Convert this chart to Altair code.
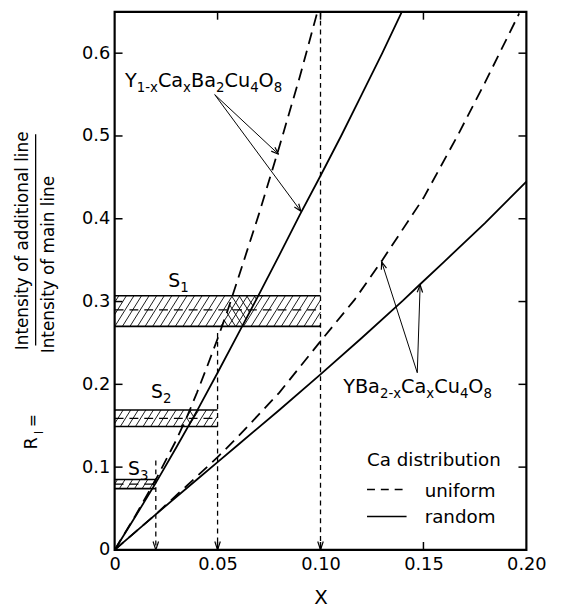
import math
import altair as alt
import pandas as pd
import numpy as np

# ---------------- data ----------------
# Y(1-x)Ca(x)Ba2Cu4O8, uniform (dashed)
Y1_UNI_X = [0, 0.01, 0.02, 0.03, 0.035, 0.04, 0.045, 0.05, 0.055, 0.06, 0.07, 0.08, 0.09, 0.0985]
Y1_UNI_Y = [0, 0.041, 0.085, 0.133, 0.16, 0.19, 0.222, 0.255, 0.29, 0.328, 0.405, 0.487, 0.572, 0.65]
# Y(1-x)Ca(x)Ba2Cu4O8, random (solid)
Y1_RND_X = [0, 0.01, 0.02, 0.03, 0.04, 0.05, 0.06, 0.07, 0.08, 0.09, 0.10, 0.11, 0.12, 0.13, 0.1395]
Y1_RND_Y = [0, 0.04, 0.081, 0.124, 0.168, 0.214, 0.261, 0.308, 0.356, 0.405, 0.452, 0.50, 0.55, 0.60, 0.65]
# YBa(2-x)Ca(x)Cu4O8, uniform (dashed)
YB_UNI_X = [0, 0.02, 0.04, 0.05, 0.06, 0.08, 0.10, 0.1165, 0.13, 0.15, 0.1665, 0.18, 0.1965]
YB_UNI_Y = [0, 0.043, 0.089, 0.112, 0.137, 0.19, 0.252, 0.302, 0.35, 0.425, 0.50, 0.565, 0.648]
# YBa(2-x)Ca(x)Cu4O8, random (solid)
YB_RND_X = [0, 0.02, 0.04, 0.05, 0.06, 0.08, 0.10, 0.12, 0.14, 0.148, 0.16, 0.18, 0.20]
YB_RND_Y = [0, 0.043, 0.085, 0.106, 0.127, 0.169, 0.212, 0.256, 0.301, 0.32, 0.348, 0.395, 0.445]

# measured bands S1..S3
S_SUBS = ["1", "2", "3"]
S_XEND = [0.10, 0.05, 0.02]
S_LO = [0.270, 0.149, 0.074]
S_MID = [0.290, 0.159, 0.0795]
S_HI = [0.307, 0.169, 0.085]
S_LABEL_X = [0.031, 0.0226, 0.0115]
S_LABEL_Y = [0.326, 0.191, 0.099]

# vertical drop lines to the x axis
DROP_X = [0.02, 0.05, 0.10]
DROP_TOP = [0.108, 0.262, 0.65]

# labels (text, is_subscript) and their arrows
LBL_Y1 = [("Y", 0), ("1-x", 1), ("Ca", 0), ("x", 1), ("Ba", 0), ("2", 1),
          ("Cu", 0), ("4", 1), ("O", 0), ("8", 1)]
LBL_Y1_POS = (0.005, 0.559)
LBL_Y1_FROM = (0.0486, 0.55)
LBL_Y1_TIPS = [(0.0796, 0.478), (0.0905, 0.409)]
LBL_YB = [("YBa", 0), ("2-x", 1), ("Ca", 0), ("x", 1), ("Cu", 0), ("4", 1), ("O", 0), ("8", 1)]
LBL_YB_POS = (0.111, 0.190)
LBL_YB_FROM = (0.147, 0.214)
LBL_YB_TIPS = [(0.1297, 0.348), (0.1484, 0.32)]

# legend
LEG_TITLE = "Ca distribution"
LEG_NAMES = ["uniform", "random"]
LEG_X = [0.1226, 0.1418]
LEG_TEXT_X = 0.1506
LEG_TITLE_Y = 0.1008
LEG_LINE_Y = [0.073, 0.0405]
LEG_TEXT_Y = [0.064, 0.032]

X_TICKS = [0, 0.05, 0.10, 0.15, 0.20]
Y_TICKS = [0, 0.1, 0.2, 0.3, 0.4, 0.5, 0.6]

# ---------------- geometry helpers ----------------
W, H = 417, 545
XMAX, YMAX = 0.20, 0.65
FONT = "DejaVu Sans"
# DejaVu Sans advance widths (em) for the glyphs used in the formula labels
ADV = {"Y": 0.611, "C": 0.698, "a": 0.613, "B": 0.686, "u": 0.634, "O": 0.787,
       "x": 0.592, "-": 0.361, "S": 0.635}
for _d in "0123456789":
    ADV[_d] = 0.636


def to_px(x, y):
    return (x / XMAX * W, H - y / YMAX * H)


def to_data(px, py):
    return (px * XMAX / W, (H - py) * YMAX / H)


def hatch(poly_data, angle_deg, spacing):
    poly = [to_px(*p) for p in poly_data]
    a = math.radians(angle_deg)
    d = (math.cos(a), -math.sin(a))
    n = (-d[1], d[0])
    vals = [n[0] * px + n[1] * py for px, py in poly]
    lo, hi = min(vals), max(vals)
    segs = []
    c = math.ceil(lo / spacing) * spacing
    while c <= hi:
        pts = []
        for i in range(len(poly)):
            ax, ay = poly[i]
            bx, by = poly[(i + 1) % len(poly)]
            fa = n[0] * ax + n[1] * ay - c
            fb = n[0] * bx + n[1] * by - c
            if ((fa <= 0 <= fb) or (fb <= 0 <= fa)) and fa != fb:
                t = fa / (fa - fb)
                pts.append((ax + t * (bx - ax), ay + t * (by - ay)))
        if len(pts) >= 2:
            pts.sort(key=lambda p: p[0] * d[0] + p[1] * d[1])
            p0, p1 = pts[0], pts[-1]
            if math.hypot(p1[0] - p0[0], p1[1] - p0[1]) > 0.8:
                x0, y0 = to_data(*p0)
                x1, y1 = to_data(*p1)
                segs.append({"x": x0, "y": y0, "x2": x1, "y2": y1})
        c += spacing
    return segs


def vhead(tip, frm, length=8.0, half=22.0):
    tx, ty = to_px(*tip)
    fx, fy = to_px(*frm)
    ux, uy = fx - tx, fy - ty
    L = math.hypot(ux, uy)
    ux, uy = ux / L, uy / L
    out = []
    for s in (-1, 1):
        r = math.radians(half * s)
        wx = ux * math.cos(r) - uy * math.sin(r)
        wy = ux * math.sin(r) + uy * math.cos(r)
        ex, ey = to_data(tx + length * wx, ty + length * wy)
        out.append({"x": tip[0], "y": tip[1], "x2": ex, "y2": ey})
    return out


# ---------------- scales / axes ----------------
xs = alt.Scale(domain=[0, XMAX], nice=False, zero=False)
ys = alt.Scale(domain=[0, YMAX], nice=False, zero=False)
AX = alt.Axis(values=X_TICKS, labelExpr="datum.value == 0 ? '0' : format(datum.value, '.2f')",
              ticks=False, domain=False, grid=False, labelFont=FONT, labelFontSize=18,
              labelColor="black", labelPadding=6, labelFlush=False, labelOverlap=False,
              title="X", titleFont=FONT, titleFontSize=20, titleFontWeight="normal",
              titleColor="black", titlePadding=14)
AY = alt.Axis(values=Y_TICKS, labelExpr="datum.value == 0 ? '0' : format(datum.value, '.1f')",
              ticks=False, domain=False, grid=False, labelFont=FONT, labelFontSize=18,
              labelColor="black", labelPadding=5, labelFlush=False, labelOverlap=False,
              title=None)


def X(f="x"):
    return alt.X(f"{f}:Q", scale=xs, axis=AX)


def Y(f="y"):
    return alt.Y(f"{f}:Q", scale=ys, axis=AY)


def rules(rows, **kw):
    df = pd.DataFrame(rows)
    return alt.Chart(df).mark_rule(color="black", **kw).encode(
        x=X(), y=Y(), x2="x2:Q", y2="y2:Q")


def curve(xv, yv, dash=None, width=1.8):
    df = pd.DataFrame({"x": xv, "y": yv, "o": range(len(xv))})
    kw = {"strokeDash": dash} if dash else {}
    return alt.Chart(df).mark_line(color="black", strokeWidth=width, **kw).encode(
        x=X(), y=Y(), order="o:Q")


def rich(segs, x, y, size, subsize, subdy, centered=False):
    """formula text: one text mark per run, subscripts smaller and lowered"""
    widths = [sum(ADV.get(ch, 0.6) for ch in s) * (subsize if sub else size) for s, sub in segs]
    off = -sum(widths) / 2 if centered else 0.0
    out = []
    df = pd.DataFrame({"x": [x], "y": [y]})
    for (s, sub), w in zip(segs, widths):
        out.append(alt.Chart(df).mark_text(
            text=s, font=FONT, fontSize=subsize if sub else size, color="black",
            align="left", baseline="alphabetic", dx=off, dy=subdy if sub else 0).encode(
            x=X(), y=Y()))
        off += w
    return out


layers = []

# hatching of the S bands
hatch_rows = []
for xe, lo, hi in zip(S_XEND, S_LO, S_HI):
    hatch_rows += hatch([(0, lo), (xe, lo), (xe, hi), (0, hi)], 58, 6.5)
# crosshatch where the band lies between the uniform and random Y1 curves
for lo, hi in zip(S_LO[:2], S_HI[:2]):
    xa = float(np.interp(lo, Y1_UNI_Y, Y1_UNI_X))
    xb = float(np.interp(hi, Y1_UNI_Y, Y1_UNI_X))
    xc = float(np.interp(hi, Y1_RND_Y, Y1_RND_X))
    xd = float(np.interp(lo, Y1_RND_Y, Y1_RND_X))
    hatch_rows += hatch([(xa, lo), (xb, hi), (xc, hi), (xd, lo)], 122, 6.5)
layers.append(rules(hatch_rows, strokeWidth=0.9))

# band edges
edge_rows = []
for xe, lo, hi in zip(S_XEND, S_LO, S_HI):
    edge_rows.append({"x": 0, "y": lo, "x2": xe, "y2": lo})
    edge_rows.append({"x": 0, "y": hi, "x2": xe, "y2": hi})
layers.append(rules(edge_rows, strokeWidth=1.6))
mid_rows = [{"x": 0, "y": m, "x2": xe, "y2": m} for xe, m in zip(S_XEND, S_MID)]
layers.append(rules(mid_rows, strokeWidth=1.3, strokeDash=[9, 6]))

# vertical drops with arrow heads
drop_rows = [{"x": xv, "y": t, "x2": xv, "y2": 0} for xv, t in zip(DROP_X, DROP_TOP)]
layers.append(rules(drop_rows, strokeWidth=1.3, strokeDash=[5, 4]))
head_rows = []
for xv, t in zip(DROP_X, DROP_TOP):
    head_rows += vhead((xv, 0.0), (xv, t), length=9, half=18)

# curves
layers.append(curve(Y1_UNI_X, Y1_UNI_Y, dash=[12, 7]))
layers.append(curve(Y1_RND_X, Y1_RND_Y))
layers.append(curve(YB_UNI_X, YB_UNI_Y, dash=[12, 7]))
layers.append(curve(YB_RND_X, YB_RND_Y))

# label arrows
arrow_rows = []
for frm, tips in ((LBL_Y1_FROM, LBL_Y1_TIPS), (LBL_YB_FROM, LBL_YB_TIPS)):
    for tp in tips:
        arrow_rows.append({"x": frm[0], "y": frm[1], "x2": tp[0], "y2": tp[1]})
        head_rows += vhead(tp, frm, length=8, half=20)
layers.append(rules(arrow_rows, strokeWidth=1.0))
layers.append(rules(head_rows, strokeWidth=1.2))

# inner ticks on all four sides
TL = 8
tick_y = pd.DataFrame({"y": Y_TICKS[1:]})
tick_x = pd.DataFrame({"x": X_TICKS[1:-1]})
layers.append(alt.Chart(tick_y).mark_rule(color="black", strokeWidth=1.5).encode(
    y=Y(), x=alt.value(0), x2=alt.value(TL)))
layers.append(alt.Chart(tick_y).mark_rule(color="black", strokeWidth=1.5).encode(
    y=Y(), x=alt.value(W - TL), x2=alt.value(W)))
layers.append(alt.Chart(tick_x).mark_rule(color="black", strokeWidth=1.5).encode(
    x=X(), y=alt.value(0), y2=alt.value(TL)))
layers.append(alt.Chart(tick_x).mark_rule(color="black", strokeWidth=1.5).encode(
    x=X(), y=alt.value(H - TL), y2=alt.value(H)))

# formula labels and S labels
layers += rich(LBL_Y1, LBL_Y1_POS[0], LBL_Y1_POS[1], 19.5, 13.5, 5)
layers += rich(LBL_YB, LBL_YB_POS[0], LBL_YB_POS[1], 19.5, 13.5, 5)
for sub, sx, sy in zip(S_SUBS, S_LABEL_X, S_LABEL_Y):
    layers += rich([("S", 0), (sub, 1)], sx, sy - 0.008, 19, 13.5, 5, centered=True)

# legend
leg_lines = pd.DataFrame({"x": [LEG_X[0]], "x2": [LEG_X[1]], "y": [LEG_LINE_Y[0]], "y2": [LEG_LINE_Y[0]]})
layers.append(rules(leg_lines, strokeWidth=1.5, strokeDash=[8, 6]))
leg_lines2 = pd.DataFrame({"x": [LEG_X[0]], "x2": [LEG_X[1]], "y": [LEG_LINE_Y[1]], "y2": [LEG_LINE_Y[1]]})
layers.append(rules(leg_lines2, strokeWidth=1.5))
leg_txt = pd.DataFrame({"x": [LEG_X[0], LEG_TEXT_X, LEG_TEXT_X],
                        "y": [LEG_TITLE_Y] + LEG_TEXT_Y,
                        "t": [LEG_TITLE] + LEG_NAMES})
layers.append(alt.Chart(leg_txt).mark_text(font=FONT, fontSize=18.5, color="black",
                                           align="left", baseline="alphabetic").encode(
    x=X(), y=Y(), text="t:N"))

# y-axis title: R_I = (additional line)/(main line), rotated
one = pd.DataFrame({"k": [0]})


def ptext(s, px, py, size=16, angle=270):
    return alt.Chart(one).mark_text(text=s, font=FONT, fontSize=size, color="black",
                                    angle=angle, align="center", baseline="middle").encode(
        x=alt.value(px), y=alt.value(py))


layers.append(ptext("Intensity of additional line", -93, 232, size=17))
layers.append(ptext("Intensity of main line", -66, 256, size=17))
layers.append(alt.Chart(one).mark_rule(color="black", strokeWidth=1.3).encode(
    x=alt.value(-80), y=alt.value(124), y2=alt.value(338)))
layers.append(ptext("R", -84, 437, size=18))
layers.append(ptext("I", -77, 426, size=12))
layers.append(ptext("=", -83, 414, size=16))

chart = alt.layer(*layers).properties(
    width=W, height=H,
    background="white",
    autosize=alt.AutoSizeParams(type="none"),
    padding={"left": 108, "top": 0, "right": 30, "bottom": 56},
).configure_view(stroke="black", strokeWidth=2.2)

chart.save("out.html", embed_options={"renderer": "svg", "actions": False})
